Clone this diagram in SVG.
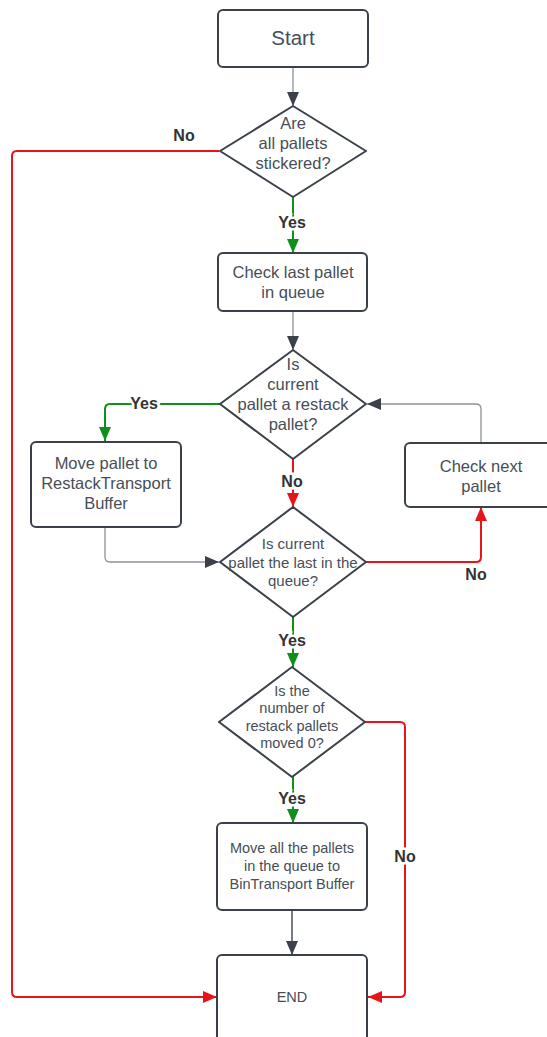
<svg xmlns="http://www.w3.org/2000/svg" width="547" height="1037" viewBox="0 0 547 1037">
  <style>
    .box { fill: #ffffff; stroke: #3a414a; stroke-width: 2; }
    .txt { font-family: "Liberation Sans", Arial, sans-serif; fill: #474e57; text-anchor: middle; dominant-baseline: central; }
    .lbl { font-family: "Liberation Sans", Arial, sans-serif; font-weight: bold; font-size: 16px; fill: #333333; text-anchor: middle; dominant-baseline: central; stroke: #ffffff; stroke-width: 5; paint-order: stroke; }
    .c-gray { fill: none; stroke: #8d9299; stroke-width: 1.3; marker-end: url(#ah-dark); }
    .c-red { fill: none; stroke: #e8141a; stroke-width: 2; marker-end: url(#ah-red); }
    .c-green { fill: none; stroke: #10901a; stroke-width: 2; marker-end: url(#ah-green); }
  </style>
  <defs>
    <marker id="ah-dark" markerUnits="userSpaceOnUse" markerWidth="14" markerHeight="12" refX="14" refY="6" orient="auto">
      <path d="M0,0 L14,6 L0,12 z" fill="#3a414a"/>
    </marker>
    <marker id="ah-red" markerUnits="userSpaceOnUse" markerWidth="14" markerHeight="12" refX="14" refY="6" orient="auto">
      <path d="M0,0 L14,6 L0,12 z" fill="#e8141a"/>
    </marker>
    <marker id="ah-green" markerUnits="userSpaceOnUse" markerWidth="14" markerHeight="12" refX="14" refY="6" orient="auto">
      <path d="M0,0 L14,6 L0,12 z" fill="#10901a"/>
    </marker>
  </defs>

  <rect width="547" height="1037" fill="#ffffff"/>

  <!-- connectors -->
  <g id="connectors">
    <path class="c-gray" d="M293,67 V106"/>
    <path class="c-green" d="M293,197 V253"/>
    <path class="c-red" d="M219,151 H17 Q12,151 12,156 V992 Q12,997 17,997 H217"/>
    <path class="c-gray" d="M293,311 V350"/>
    <path class="c-green" d="M220,404 H110 Q105,404 105,409 V441"/>
    <path class="c-red" d="M293,459 V507"/>
    <path class="c-gray" d="M481,443 V409 Q481,404 476,404 H367"/>
    <path class="c-gray" d="M105,527 V557 Q105,562 110,562 H219"/>
    <path class="c-red" d="M366,562 H476 Q481,562 481,557 V507"/>
    <path class="c-green" d="M293,617 V667"/>
    <path class="c-red" d="M365,722 H400 Q405,722 405,727 V992 Q405,997 400,997 H368"/>
    <path class="c-green" d="M293,777 V823"/>
    <path class="c-gray" d="M292,910 V955" style="stroke:#555b63;stroke-width:1.6"/>

    <text class="lbl" x="184" y="135">No</text>
    <text class="lbl" x="292" y="222">Yes</text>
    <text class="lbl" x="144" y="403">Yes</text>
    <text class="lbl" x="292" y="481">No</text>
    <text class="lbl" x="476" y="574">No</text>
    <text class="lbl" x="292" y="640">Yes</text>
    <text class="lbl" x="292" y="798">Yes</text>
    <text class="lbl" x="405" y="856">No</text>
  </g>

  <!-- nodes -->
  <g id="start">
    <rect class="box" x="218" y="10" width="150" height="57" rx="5"/>
    <text class="txt" x="293" y="37" font-size="20.5">Start</text>
  </g>

  <g id="all-stickered">
    <path class="box" d="M293,106 L366,151 L293,197 L220,151 Z" stroke-linejoin="round"/>
    <text class="txt" font-size="16.5"><tspan x="293" y="123">Are</tspan><tspan x="293" y="143">all pallets</tspan><tspan x="293" y="163">stickered?</tspan></text>
  </g>

  <g id="check-last">
    <rect class="box" x="218" y="253" width="149" height="58" rx="5"/>
    <text class="txt" font-size="16.5"><tspan x="293" y="272">Check last pallet</tspan><tspan x="293" y="292">in queue</tspan></text>
  </g>

  <g id="is-restack">
    <path class="box" d="M293,350 L366,404 L293,459 L220,404 Z" stroke-linejoin="round"/>
    <text class="txt" font-size="16.5"><tspan x="293" y="364">Is</tspan><tspan x="293" y="384">current</tspan><tspan x="293" y="404">pallet a restack</tspan><tspan x="293" y="424">pallet?</tspan></text>
  </g>

  <g id="move-restack">
    <rect class="box" x="31" y="442" width="150" height="85" rx="5"/>
    <text class="txt" font-size="16.5"><tspan x="106" y="463">Move pallet to</tspan><tspan x="106" y="483">RestackTransport</tspan><tspan x="106" y="503">Buffer</tspan></text>
  </g>

  <g id="check-next">
    <rect class="box" x="405" y="443" width="150" height="64" rx="5"/>
    <text class="txt" font-size="16.5"><tspan x="481" y="466">Check next</tspan><tspan x="481" y="486">pallet</tspan></text>
  </g>

  <g id="is-last">
    <path class="box" d="M293,507 L366,562 L293,617 L220,562 Z" stroke-linejoin="round"/>
    <text class="txt" font-size="15"><tspan x="293" y="543">Is current</tspan><tspan x="293" y="562">pallet the last in the</tspan><tspan x="293" y="580">queue?</tspan></text>
  </g>

  <g id="moved-zero">
    <path class="box" d="M292,667 L365,722 L292,777 L219,722 Z" stroke-linejoin="round"/>
    <text class="txt" font-size="14.5"><tspan x="292" y="691">Is the</tspan><tspan x="292" y="708">number of</tspan><tspan x="292" y="726">restack pallets</tspan><tspan x="292" y="743">moved 0?</tspan></text>
  </g>

  <g id="move-all">
    <rect class="box" x="217" y="823" width="150" height="87" rx="5"/>
    <text class="txt" font-size="14.5"><tspan x="292" y="848">Move all the pallets</tspan><tspan x="292" y="866">in the queue to</tspan><tspan x="292" y="884">BinTransport Buffer</tspan></text>
  </g>

  <g id="end">
    <rect class="box" x="217" y="955" width="150" height="95" rx="5"/>
    <text class="txt" x="292" y="997" font-size="14.5">END</text>
  </g>
</svg>
